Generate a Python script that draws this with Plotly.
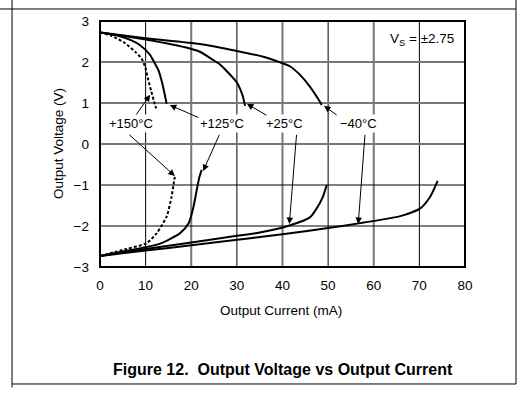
import plotly.graph_objects as go

# ---- data ----
# sourcing (positive output) curves
src_m40_x = [0, 10, 21.9, 30, 36, 39.5, 41.7, 43.9, 46, 48.2, 48.6]
src_m40_y = [2.72, 2.58, 2.44, 2.27, 2.12, 1.99, 1.89, 1.68, 1.4, 1.03, 0.95]
src_25_x = [0, 10, 19.7, 21.9, 24.8, 26.3, 27.6, 30, 31.2, 31.8]
src_25_y = [2.72, 2.55, 2.33, 2.25, 2.05, 1.94, 1.8, 1.5, 1.2, 0.93]
src_125_x = [0, 4, 7, 8.8, 11, 12, 12.8, 13.6, 14.2, 14.6]
src_125_y = [2.72, 2.64, 2.52, 2.41, 2.17, 1.97, 1.80, 1.5, 1.2, 0.98]
src_150_x = [0, 2.5, 5.5, 7.7, 9.1, 9.9, 10.5, 11.2, 11.8, 12.3]
src_150_y = [2.72, 2.64, 2.46, 2.25, 2.09, 1.88, 1.6, 1.3, 1.05, 0.87]

# sinking (negative output) curves
snk_m40_x = [0, 10, 20, 32.9, 40, 50, 57, 65.8, 70.2, 72.4, 74]
snk_m40_y = [-2.73, -2.6, -2.47, -2.3, -2.2, -2.05, -1.93, -1.76, -1.57, -1.28, -0.9]
snk_25_x = [0, 10, 20, 30, 35, 41.7, 46, 47.5, 48.8, 49.7]
snk_25_y = [-2.73, -2.56, -2.4, -2.24, -2.16, -1.98, -1.79, -1.57, -1.3, -1.0]
snk_125_x = [0, 5, 10, 13.2, 17.5, 19.4, 20.5, 21.2, 21.8, 22.3]
snk_125_y = [-2.73, -2.62, -2.52, -2.43, -2.18, -1.94, -1.53, -1.12, -0.8, -0.63]
snk_150_x = [0, 5.8, 10.2, 12.4, 14.6, 15.7, 16.1, 16.4]
snk_150_y = [-2.73, -2.56, -2.42, -2.18, -1.77, -1.28, -1.0, -0.80]

x_ticks = [0, 10, 20, 30, 40, 50, 60, 70, 80]
x_tick_labels = ["0", "10", "20", "30", "40", "50", "60", "70", "80"]
y_ticks = [-3, -2, -1, 0, 1, 2, 3]
y_tick_labels = ["−3", "−2", "−1", "0", "1", "2", "3"]

temp_labels = ["+150°C", "+125°C", "+25°C", "−40°C"]
label_pos = [(6.8, 0.5), (26.8, 0.5), (40.5, 0.5), (56.7, 0.5)]
# arrows: (tail_x, tail_y, head_x, head_y)
arrows = [
    (7.7, 0.68, 11.0, 1.2), (6.1, 0.26, 16.4, -0.78),
    (21.9, 0.63, 15.3, 0.95), (26.3, 0.26, 22.6, -0.66),
    (36.8, 0.68, 32.2, 0.98), (43.1, 0.26, 41.5, -1.95),
    (52.2, 0.68, 49.1, 0.93), (58.1, 0.26, 56.6, -1.95),
]

FONT = "Liberation Sans, Arial, sans-serif"

fig = go.Figure()
curves = [
    (src_m40_x, src_m40_y, "solid"), (src_25_x, src_25_y, "solid"),
    (src_125_x, src_125_y, "solid"), (src_150_x, src_150_y, "3px,2px"),
    (snk_m40_x, snk_m40_y, "solid"), (snk_25_x, snk_25_y, "solid"),
    (snk_125_x, snk_125_y, "solid"), (snk_150_x, snk_150_y, "3px,2px"),
]
for cx, cy, dash in curves:
    fig.add_trace(go.Scatter(x=cx, y=cy, mode="lines",
                             line=dict(color="black", width=2, dash=dash, shape="spline", smoothing=0.6),
                             showlegend=False, hoverinfo="skip"))

shapes = []
# gridlines (alternating gray / black like the reference)
for v in x_ticks[1:-1]:
    gray = (v // 10) % 2 == 0
    shapes.append(dict(type="line", xref="x", yref="paper", x0=v, x1=v, y0=0, y1=1,
                       line=dict(color="#777777" if gray else "black", width=2 if gray else 1), layer="below"))
for v in y_ticks[1:-1]:
    gray = v >= 0
    shapes.append(dict(type="line", xref="paper", yref="y", x0=0, x1=1, y0=v, y1=v,
                       line=dict(color="#777777" if gray else "black", width=2 if gray else 1), layer="below"))
# plot frame
shapes.append(dict(type="rect", xref="paper", yref="paper", x0=0, x1=1, y0=0, y1=1,
                   line=dict(color="black", width=2)))
# page frame lines
L, R, T, B = -0.241, 1.1397, 1.0488, -0.4756
shapes += [
    dict(type="line", xref="paper", yref="paper", x0=-0.3, x1=R, y0=T, y1=T, line=dict(color="black", width=1)),
    dict(type="line", xref="paper", yref="paper", x0=L, x1=R, y0=B, y1=B, line=dict(color="black", width=1)),
    dict(type="line", xref="paper", yref="paper", x0=L, x1=L, y0=1.1, y1=-0.49, line=dict(color="black", width=1)),
    dict(type="line", xref="paper", yref="paper", x0=R, x1=R, y0=1.1, y1=B, line=dict(color="black", width=1)),
]

annotations = []
for txt, (lx, ly) in zip(temp_labels, label_pos):
    annotations.append(dict(x=lx, y=ly, xref="x", yref="y", text=txt, showarrow=False,
                            xanchor="center", yanchor="middle",
                            font=dict(family=FONT, size=13, color="black"), bgcolor="white"))
for tx, ty, hx, hy in arrows:
    annotations.append(dict(x=hx, y=hy, ax=tx, ay=ty, xref="x", yref="y", axref="x", ayref="y",
                            text="", showarrow=True, arrowhead=2, arrowsize=1.3, arrowwidth=1,
                            arrowcolor="black", standoff=0, startstandoff=0))
annotations.append(dict(x=70.6, y=2.54, xref="x", yref="y", text="V<sub>S</sub> = ±2.75",
                        showarrow=False, xanchor="center", yanchor="middle",
                        font=dict(family=FONT, size=13.5, color="black")))
annotations.append(dict(x=(281 - 100) / 365, y=(267 - 310) / 246, xref="paper", yref="paper",
                        text="Output Current (mA)", showarrow=False, xanchor="center", yanchor="middle",
                        font=dict(family=FONT, size=13.5, color="black")))
annotations.append(dict(x=(58 - 100) / 365, y=0.5, xref="paper", yref="paper",
                        text="Output Voltage (V)", showarrow=False, textangle=-90,
                        xanchor="center", yanchor="middle",
                        font=dict(family=FONT, size=13.5, color="black")))
annotations.append(dict(x=(283 - 100) / 365, y=(267 - 369) / 246, xref="paper", yref="paper",
                        text="<b>Figure 12.  Output Voltage vs Output Current</b>", showarrow=False,
                        xanchor="center", yanchor="middle",
                        font=dict(family=FONT, size=16, color="black")))

fig.update_layout(
    width=529, height=393,
    margin=dict(l=100, r=64, t=21, b=126),
    paper_bgcolor="white", plot_bgcolor="white",
    shapes=shapes, annotations=annotations,
    xaxis=dict(range=[0, 80], tickvals=x_ticks, ticktext=x_tick_labels, showgrid=False, zeroline=False,
               showline=False, ticks="", ticklabelstandoff=8,
               tickfont=dict(family=FONT, size=13.5, color="black")),
    yaxis=dict(range=[-3, 3], tickvals=y_ticks, ticktext=y_tick_labels, showgrid=False, zeroline=False,
               showline=False, ticks="", ticklabelstandoff=10,
               tickfont=dict(family=FONT, size=13.5, color="black")),
)
fig.write_html("out.html", config={"displayModeBar": False},
               post_script="document.body.style.margin='0px';")
